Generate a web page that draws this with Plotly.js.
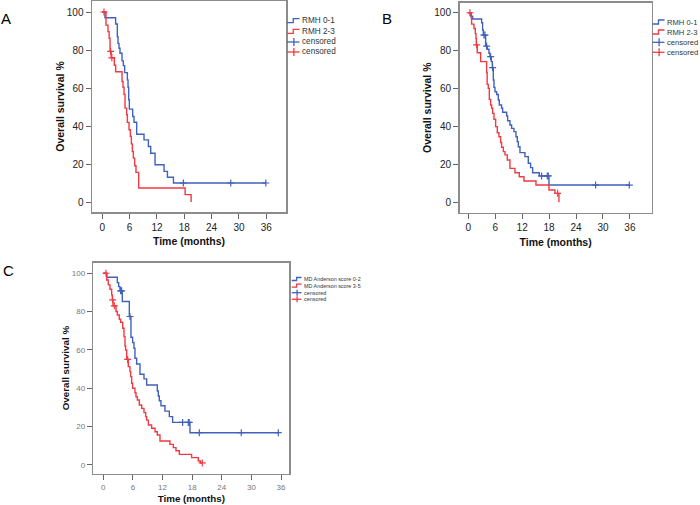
<!DOCTYPE html>
<html><head><meta charset="utf-8">
<script src="https://cdn.plot.ly/plotly-3.0.1.min.js"></script>
<style>html,body{margin:0;padding:0;background:#fff}</style>
</head><body><div id="chart" style="width:700px;height:505px"></div>
<script>
// ---------- DATA ----------
const xTickVals = [0, 6, 12, 18, 24, 30, 36];
const yTickVals = [0, 20, 40, 60, 80, 100];
const xTitle = 'Time (months)';
const yTitle = 'Overall survival %';
const legendAB = ['RMH 0-1', 'RMH 2-3', 'censored', 'censored'];
const legendC = ['MD Anderson score 0-2', 'MD Anderson score 3-5', 'censored', 'censored'];
const panelLetters = ['A', 'B', 'C'];

// Panel A
const aBlueT = [0, 0.59, 2.93, 3.30, 3.45, 3.67, 3.89, 4.33, 4.62, 4.91, 5.50, 5.65, 5.79, 5.94, 6.67, 6.96, 7.55, 9.16, 10.12, 10.63, 11.58, 13.56, 14.30, 15.62, 35.9];
const aBlueS = [100, 97.0, 93.7, 87.0, 83.5, 80.9, 78.3, 74.3, 71.8, 68.1, 64.3, 60.4, 53.8, 48.9, 45.0, 42.0, 35.7, 32.7, 29.2, 25.7, 19.6, 16.1, 13.0, 10.0, 10.0];
const aBlueCensT = [17.8, 28.2, 35.9];
const aBlueCensS = [10.0, 10.0, 10.0];
const aRedT = [0, 0.81, 1.25, 1.50, 1.70, 1.95, 2.64, 2.93, 4.33, 4.55, 4.77, 4.99, 5.35, 5.50, 5.87, 6.16, 6.38, 6.60, 6.82, 7.11, 7.40, 7.99, 18.18, 19.5];
const aRedS = [100, 93.1, 89.7, 86.2, 79.3, 75.9, 72.0, 68.6, 63.4, 60.4, 56.7, 49.4, 45.9, 41.9, 38.0, 34.5, 30.6, 26.6, 23.1, 19.1, 15.6, 7.4, 3.9, 0];
const aRedCensT = [0.37, 1.83, 2.10];
const aRedCensS = [100, 79.3, 75.9];

// Panel B
const bBlueT = [0, 0.52, 0.97, 2.97, 3.19, 3.34, 3.86, 4.23, 4.60, 4.83, 5.12, 5.35, 5.57, 5.72, 5.94, 6.31, 6.68, 6.90, 7.42, 7.65, 8.54, 8.76, 9.28, 9.65, 10.17, 10.62, 10.91, 11.14, 11.51, 12.62, 13.36, 13.88, 14.33, 15.81, 17.97, 35.9];
const bBlueS = [100, 98.2, 96.7, 94.7, 90.9, 88.2, 82.4, 80.7, 78.6, 76.8, 74.2, 71.0, 64.5, 60.6, 58.3, 56.9, 54.0, 51.3, 49.6, 47.5, 45.5, 43.0, 40.8, 39.0, 37.3, 34.6, 32.0, 29.3, 26.2, 24.1, 20.6, 18.3, 15.6, 13.9, 9.1, 9.1];
const bBlueCensT = [3.49, 3.71, 4.08, 4.97, 5.42, 16.33, 17.59, 17.82, 28.36, 35.86];
const bBlueCensS = [88.2, 88.2, 82.4, 76.8, 71.0, 13.9, 13.9, 13.9, 9.1, 9.1];
const bRedT = [0, 0.67, 0.74, 1.26, 1.56, 1.71, 1.78, 2.0, 2.75, 4.08, 4.20, 4.45, 4.68, 4.97, 5.20, 5.42, 5.72, 6.09, 6.46, 6.83, 7.20, 7.42, 7.80, 8.17, 8.69, 9.28, 10.39, 11.36, 12.40, 15.07, 17.97, 19.30, 20.19];
const bRedS = [100, 97.0, 94.0, 91.7, 89.0, 86.5, 83.0, 78.9, 74.2, 68.5, 62.2, 60.1, 54.3, 51.3, 49.6, 46.9, 43.8, 39.9, 36.7, 34.6, 31.5, 29.0, 26.7, 25.0, 22.3, 17.9, 15.6, 13.5, 11.2, 9.1, 6.5, 4.7, 0];
const bRedCensT = [0.37, 1.86, 19.9];
const bRedCensS = [100, 83.0, 4.7];

// Panel C
const cBlueT = [0, 0.68, 2.84, 3.11, 3.38, 3.85, 5.27, 5.60, 5.94, 6.21, 6.41, 6.75, 7.43, 8.24, 8.78, 10.94, 11.14, 11.34, 11.68, 12.49, 13.37, 14.04, 17.56, 35.5];
const cBlueS = [100, 97.9, 95.1, 93.0, 90.8, 85.2, 77.4, 66.6, 63.8, 60.8, 55.6, 52.6, 47.2, 44.8, 41.6, 38.5, 35.9, 33.4, 30.8, 28.0, 25.1, 22.1, 16.7, 16.7];
const cBlueCensT = [3.51, 3.71, 5.40, 16.07, 17.22, 17.40, 19.45, 27.95, 35.45];
const cBlueCensS = [90.8, 90.8, 77.4, 22.1, 22.1, 22.1, 16.7, 16.7, 16.7];
const cRedT = [0, 0.68, 1.01, 1.35, 1.69, 1.82, 1.96, 2.57, 2.84, 3.24, 3.51, 3.92, 4.19, 4.39, 4.52, 4.73, 5.06, 5.40, 5.54, 5.74, 5.94, 6.41, 6.62, 6.89, 7.29, 7.77, 8.24, 8.58, 8.78, 9.12, 9.79, 10.47, 10.94, 11.48, 13.50, 14.18, 14.72, 15.40, 17.89, 19.24, 19.7, 20.05];
const cRedS = [100, 96.5, 93.9, 91.6, 88.7, 86.1, 83.0, 80.0, 78.2, 76.0, 74.4, 71.3, 66.9, 62.0, 59.9, 55.0, 51.2, 48.6, 46.0, 42.5, 39.9, 37.6, 35.5, 33.8, 31.2, 29.4, 27.2, 25.1, 23.3, 20.7, 19.0, 17.2, 15.5, 12.4, 10.6, 8.9, 7.3, 5.4, 3.7, 1.9, 0.9, 0.9];
const cRedCensT = [0.54, 1.89, 2.23, 4.93, 20.05];
const cRedCensS = [100, 86.1, 83.0, 55.0, 0.9];

// ---------- STYLE ----------
const W = 700, H = 505;
const BLUE = '#4062bd', RED = '#f23a42';
const FRAME = '#8c8c8c';
const FONT = 'Liberation Sans, Arial, sans-serif';
const px = v => v / W, py = v => 1 - v / H;

function curve(t, s, color, xa, ya) {
  return {x: t, y: s, type: 'scatter', mode: 'lines', line: {shape: 'hv', color: color, width: 1.4},
    xaxis: xa, yaxis: ya, showlegend: false, hoverinfo: 'skip'};
}
function cens(t, s, color, xa, ya, size) {
  return {x: t, y: s, type: 'scatter', mode: 'markers',
    marker: {symbol: 'cross-thin', size: size, color: color, line: {color: color, width: 1.2}},
    xaxis: xa, yaxis: ya, showlegend: false, hoverinfo: 'skip'};
}
const data = [
  curve(aBlueT, aBlueS, BLUE, 'x', 'y'), curve(aRedT, aRedS, RED, 'x', 'y'),
  cens(aBlueCensT, aBlueCensS, BLUE, 'x', 'y', 5), cens(aRedCensT, aRedCensS, RED, 'x', 'y', 5),
  curve(bBlueT, bBlueS, BLUE, 'x2', 'y2'), curve(bRedT, bRedS, RED, 'x2', 'y2'),
  cens(bBlueCensT, bBlueCensS, BLUE, 'x2', 'y2', 5), cens(bRedCensT, bRedCensS, RED, 'x2', 'y2', 5),
  curve(cBlueT, cBlueS, BLUE, 'x3', 'y3'), curve(cRedT, cRedS, RED, 'x3', 'y3'),
  cens(cBlueCensT, cBlueCensS, BLUE, 'x3', 'y3', 5), cens(cRedCensT, cRedCensS, RED, 'x3', 'y3', 5)
];

function axis(dom, range, anchor, tickvals, tickFont, titleFont, standoff) {
  return {domain: dom, range: range, anchor: anchor, tickmode: 'array', tickvals: tickvals,
    ticktext: tickvals.map(String), showline: true, mirror: true, linecolor: FRAME, linewidth: 1.5,
    ticks: 'outside', ticklen: 5, tickwidth: 1, tickcolor: '#666', tickfont: tickFont,
    showgrid: false, zeroline: false, automargin: false, fixedrange: true,
    title: {text: '', font: titleFont, standoff: standoff}};
}
const tfAB = {family: FONT, size: 10, color: '#222'};
const tfC = {family: FONT, size: 8, color: '#777'};
const ttAB = {family: FONT, size: 10.5, color: '#111', weight: 'bold'};
const ttC = {family: FONT, size: 9.8, color: '#111', weight: 'bold'};

const xa = axis([px(92), px(286)], [-2.26, 40.33], 'y', xTickVals, tfAB, ttAB, 6); xa.title.text = xTitle;
const ya = axis([py(212), py(1)], [-5.26, 105.8], 'x', yTickVals, tfAB, ttAB, 0); ya.title.text = yTitle;
const xb = axis([px(459.5), px(651.7)], [-1.96, 40.85], 'y2', xTickVals, tfAB, ttAB, 6); xb.title.text = xTitle;
const yb = axis([py(212.7), py(2.7)], [-5.5, 105.3], 'x2', yTickVals, tfAB, ttAB, 0); yb.title.text = yTitle;
const xc = axis([px(93.3), px(289.3)], [-2.03, 37.68], 'y3', xTickVals, tfC, ttC, 4); xc.title.text = xTitle;
const yc = axis([py(473.5), py(262.7)], [-4.6, 105.5], 'x3', yTickVals, tfC, ttC, 0); yc.title.text = yTitle;

// ---------- LEGENDS (drawn as small shapes + text) ----------
const shapes = [], annotations = [];
function legend(labels, x0, x1, rows, fontSize, half) {
  const colors = [BLUE, RED, BLUE, RED];
  labels.forEach((lab, i) => {
    const y = rows[i], c = colors[i];
    if (i < 2) {
      const xm = (x0 + x1) / 2;
      shapes.push({type: 'path', xref: 'paper', yref: 'paper',
        path: `M${px(x0)},${py(y + half)} L${px(xm)},${py(y + half)} L${px(xm)},${py(y - half)} L${px(x1)},${py(y - half)}`,
        line: {color: c, width: 1.3}});
    } else {
      const xm = x0 + (x1 - x0) * 0.55;
      shapes.push({type: 'line', xref: 'paper', yref: 'paper', x0: px(x0), x1: px(x1), y0: py(y), y1: py(y), line: {color: c, width: 1.3}});
      shapes.push({type: 'line', xref: 'paper', yref: 'paper', x0: px(xm), x1: px(xm), y0: py(y - half * 2), y1: py(y + half * 2), line: {color: c, width: 1.3}});
    }
    annotations.push({xref: 'paper', yref: 'paper', x: px(x1 + 0.5), y: py(y), xanchor: 'left', yanchor: 'middle',
      text: lab, showarrow: false, font: {family: FONT, size: fontSize, color: '#333'}});
  });
}
legend(legendAB, 287, 299.5, [20.7, 31.3, 42, 52], 8.2, 2);
legend(legendAB, 652.5, 664.5, [22, 32, 42.3, 52.3], 7.6, 2);
legend(legendC, 291.7, 301.5, [279, 285.7, 292.7, 299.3], 5.4, 1.5);

const letterPos = [[5.5, 18], [387, 18], [8, 270]];
panelLetters.forEach((L, i) => annotations.push({xref: 'paper', yref: 'paper', x: px(letterPos[i][0]), y: py(letterPos[i][1]),
  xanchor: 'center', yanchor: 'middle', text: L, showarrow: false, font: {family: FONT, size: 15, color: '#000'}}));

const layout = {width: W, height: H, margin: {l: 0, r: 0, t: 0, b: 0}, paper_bgcolor: '#fff', plot_bgcolor: '#fff',
  showlegend: false, xaxis: xa, yaxis: ya, xaxis2: xb, yaxis2: yb, xaxis3: xc, yaxis3: yc,
  shapes: shapes, annotations: annotations};
Plotly.newPlot('chart', data, layout, {staticPlot: true, displayModeBar: false});
</script></body></html>
